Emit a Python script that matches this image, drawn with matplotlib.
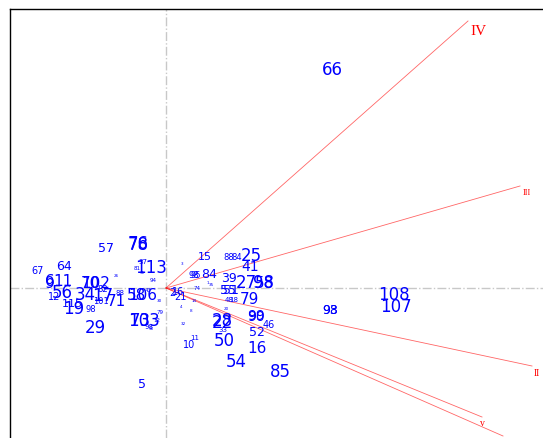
import numpy as np
import matplotlib
matplotlib.use("Agg")
import matplotlib.pyplot as plt

# row scores on the first two axes, with label size
labels = ["66", "108", "107", "25", "41", "27", "98", "58", "79", "99",
          "90", "52", "46", "16", "50", "54", "85", "28", "22", "33",
          "98", "93", "39", "55", "51", "88", "84", "84", "98", "95",
          "15", "48", "18", "21", "2", "16", "10", "11", "76", "78",
          "57", "113", "37", "81", "64", "67", "6", "9", "11", "56",
          "12", "34", "17", "70", "102", "82", "115", "19", "98", "101",
          "71", "88", "58", "106", "29", "73", "103", "98", "79", "12",
          "5", "43", "94", "74", "3", "1", "4", "8", "14", "20",
          "26", "30", "31", "32", "35", "36"]
score_x = [3.32, 4.56, 4.60, 1.70, 1.68, 1.60, 1.96, 1.96, 1.66, 1.80,
           1.80, 1.82, 2.06, 1.82, 1.16, 1.40, 2.28, 1.12, 1.12, 1.14,
           3.28, 3.28, 1.26, 1.24, 1.30, 1.26, 1.42, 0.86, 0.56, 0.60,
           0.78, 1.26, 1.36, 0.28, 0.12, 0.24, 0.46, 0.58, -0.56, -0.56,
           -1.20, -0.30, -0.46, -0.58, -2.04, -2.56, -2.32, -2.32, -2.06, -2.08,
           -2.24, -1.62, -1.26, -1.52, -1.40, -1.26, -1.88, -1.84, -1.50, -1.30,
           -1.00, -0.92, -0.60, -0.46, -1.42, -0.52, -0.44, -0.34, -0.12, -0.18,
           -0.48, -0.36, -0.26, 0.62, 0.32, 0.84, 0.30, 0.50, 0.56, 1.20,
           -1.00, -0.14, -0.48, 0.34, 0.90, -0.30]
score_y = [4.38, -0.12, -0.36, 0.66, 0.44, 0.12, 0.12, 0.10, -0.22, -0.54,
           -0.56, -0.88, -0.72, -1.20, -1.04, -1.46, -1.66, -0.64, -0.68, -0.82,
           -0.44, -0.42, 0.22, -0.02, -0.02, 0.62, 0.62, 0.28, 0.28, 0.28,
           0.64, -0.22, -0.22, -0.16, -0.08, -0.06, -1.12, -0.98, 0.90, 0.88,
           0.80, 0.42, 0.54, 0.42, 0.46, 0.36, 0.16, 0.12, 0.14, -0.08,
           -0.16, -0.12, -0.14, 0.10, 0.10, 0.00, -0.30, -0.40, -0.40, -0.26,
           -0.24, -0.08, -0.12, -0.12, -0.78, -0.64, -0.64, -0.76, -0.48, -0.62,
           -1.92, -0.04, 0.18, 0.00, 0.50, 0.12, -0.36, -0.44, -0.24, -0.40,
           0.26, -0.24, 0.32, -0.70, 0.08, -0.80]
label_size = [12, 12, 12, 12, 10, 12, 12, 11, 11, 10,
              10, 9, 7, 11, 12, 12, 12, 12, 12, 5,
              9, 9, 9, 9, 9, 6, 6, 9, 6, 6,
              8, 5, 5, 7, 7, 7, 7, 5, 12, 12,
              9, 12, 5, 4, 9, 7, 11, 11, 11, 12,
              7, 12, 12, 11, 11, 6, 8, 12, 6, 6,
              11, 5, 11, 11, 12, 12, 12, 5, 4, 4,
              9, 4, 4, 4, 3, 3, 3, 3, 3, 3,
              3, 3, 3, 3, 3, 3]

# column loadings (arrows)
var_names = ["I", "II", "III", "IV", "v"]
load_x = [6.74, 7.32, 7.08, 6.04, 6.32]
load_y = [-2.96, -1.56, 2.04, 5.34, -2.58]
name_x = [6.80, 7.42, 7.22, 6.24, 6.32]
name_y = [-3.12, -1.70, 1.92, 5.16, -2.70]
name_size = [8, 7, 6, 11, 7]

fig = plt.figure(figsize=(5.43, 4.39), dpi=100)
ax = fig.add_axes([10 / 543, 0, 533 / 543, 429 / 439])
ax.set_xlim(-3.12, 7.54)
ax.set_ylim(-3.0, 5.58)
ax.set_xticks([])
ax.set_yticks([])
ax.spines["right"].set_visible(False)
ax.spines["bottom"].set_visible(False)
for s in ["top", "left"]:
    ax.spines[s].set_linewidth(1.0)

ax.axhline(0, color="#c8c8c8", lw=1, ls="-.", zorder=0)
ax.axvline(0, color="#c8c8c8", lw=1, ls="-.", zorder=0)

for lx, ly in zip(load_x, load_y):
    ax.plot([0, lx], [0, ly], color="red", lw=0.6, alpha=0.6)
for nm, nx, ny, ns in zip(var_names, name_x, name_y, name_size):
    ax.text(nx, ny, nm, color="red", fontsize=ns, family="Liberation Serif",
            ha="center", va="center", clip_on=True)

for lab, x, y, s in zip(labels, score_x, score_y, label_size):
    ax.text(x, y, lab, color="blue", fontsize=s, ha="center", va="center",
            clip_on=True)

fig.savefig("out.png", dpi=100)
